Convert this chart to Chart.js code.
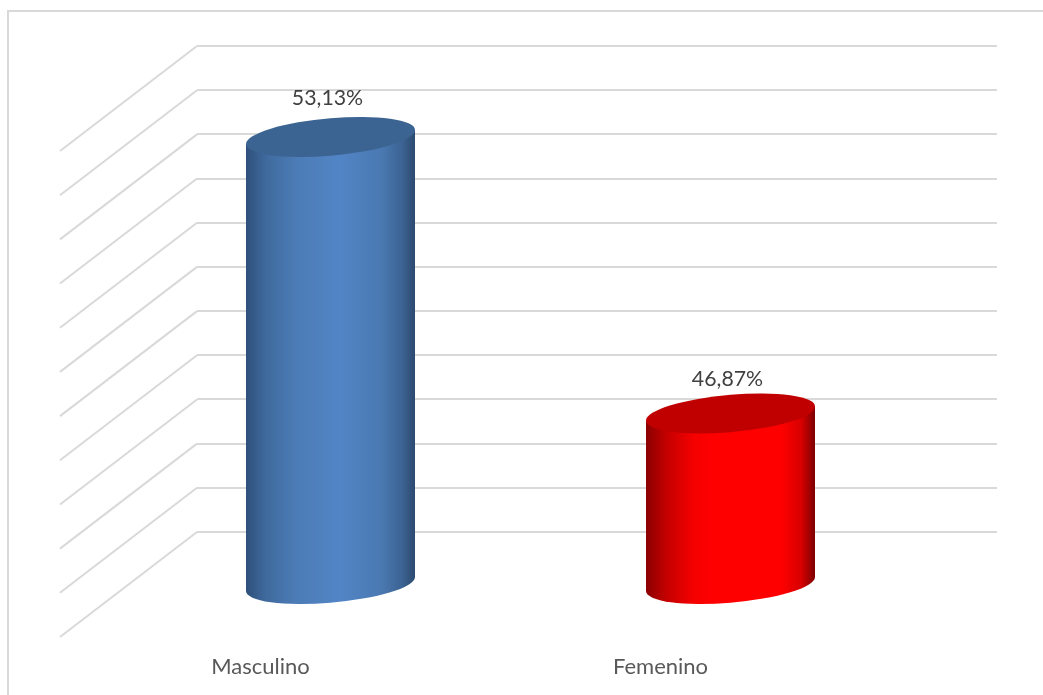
<!DOCTYPE html>
<html>
<head>
<meta charset="utf-8">
<style>html,body{margin:0;padding:0;background:#fff;overflow:hidden}canvas{display:block}</style>
<script src="https://cdn.jsdelivr.net/npm/chart.js@4"></script>
</head>
<body>
<canvas id="c" width="1043" height="695"></canvas>
<script>
const categories = ['Masculino', 'Femenino'];
const values = [53.13, 46.87];
const valueLabels = ['53,13%', '46,87%'];
const axisMin = 43;
const axisMax = 54;
const axisStep = 1;

const bodyStops = [
  [[0,'#2f507a'],[0.12,'#3f6a9e'],[0.3,'#4c7cb6'],[0.55,'#5285c6'],[0.8,'#4a79b2'],[0.92,'#3c6494'],[1,'#2c4a6f']],
  [[0,'#8a0000'],[0.12,'#c40000'],[0.28,'#f50000'],[0.4,'#ff0000'],[0.8,'#ff0000'],[0.92,'#d60000'],[1,'#7c0000']]
];
const capColors = ['#3c6492', '#c00000'];
const labelLift = [39, 34];

const GRID = '#d9d9d9';
const DEPTH_DX = -137, DEPTH_DY = 105;      // front edge of the floor/wall
const BAR_DX = -66.5, BAR_DY = 52.5;        // bars stand mid-depth
const TILT = 7 / 84, CAP_B = 18.7;

const scene = {
  id: 'scene',
  beforeDraw(chart) {
    const c = chart.ctx;
    c.save();
    c.fillStyle = '#fff';
    c.fillRect(0, 0, chart.width, chart.height);
    c.strokeStyle = GRID;
    c.lineWidth = 2;
    c.beginPath();
    c.moveTo(8, 695); c.lineTo(8, 11); c.lineTo(1043, 11);
    c.stroke();
    c.restore();
  },
  beforeDatasetsDraw(chart) {
    const c = chart.ctx, y = chart.scales.y, left = chart.chartArea.left;
    c.save();
    c.strokeStyle = GRID;
    c.lineWidth = 2;
    y.ticks.forEach(t => {
      const py = y.getPixelForValue(t.value);
      c.beginPath();
      c.moveTo(left, py);
      c.lineTo(left + DEPTH_DX, py + DEPTH_DY);
      c.stroke();
    });
    c.restore();
  },
  afterDatasetsDraw(chart) {
    const c = chart.ctx;
    chart.getDatasetMeta(0).data.forEach((bar, i) => {
      const A = bar.width / 2, cx = bar.x + BAR_DX, top = bar.y + BAR_DY, h = bar.base - bar.y + 0.5;
      c.save();
      c.transform(1, -TILT, 0, 1, cx, top);
      const g = c.createLinearGradient(-A, 0, A, 0);
      bodyStops[i].forEach(s => g.addColorStop(s[0], s[1]));
      c.fillStyle = g;
      c.beginPath();
      c.moveTo(-A, 0);
      c.lineTo(-A, h);
      c.ellipse(0, h, A, CAP_B, 0, Math.PI, 0, true);
      c.lineTo(A, 0);
      c.closePath();
      c.fill();
      c.fillStyle = capColors[i];
      c.beginPath();
      c.ellipse(0, 0, A, CAP_B, 0, 0, Math.PI * 2);
      c.fill();
      c.restore();

      c.save();
      c.font = '21.3px Lato, sans-serif';
      c.fillStyle = '#404040';
      c.textAlign = 'center';
      c.textBaseline = 'middle';
      c.fillText(valueLabels[i], cx - 3, top - labelLift[i]);
      c.restore();
    });
  }
};

new Chart(document.getElementById('c'), {
  type: 'bar',
  data: {
    labels: categories,
    datasets: [{
      data: values,
      base: axisMin,
      backgroundColor: 'rgba(0,0,0,0)',
      borderWidth: 0,
      barPercentage: 0.4225,
      categoryPercentage: 1
    }]
  },
  plugins: [scene],
  options: {
    responsive: false,
    animation: false,
    layout: { padding: { left: 197, right: 46, top: 46, bottom: 16 } },
    plugins: { legend: { display: false }, tooltip: { enabled: false }, title: { display: false } },
    scales: {
      x: {
        afterFit(scale) { scale.height = 147; },
        grid: { display: false },
        border: { display: false },
        ticks: {
          color: '#595959',
          font: { family: 'Lato, sans-serif', size: 22 },
          padding: 114,
          labelOffset: -136.5,
          maxRotation: 0,
          autoSkip: false
        }
      },
      y: {
        min: axisMin,
        max: axisMax,
        grid: { color: GRID, lineWidth: 2, drawTicks: false },
        border: { display: false },
        ticks: { display: false, stepSize: axisStep }
      }
    }
  }
});
</script>
</body>
</html>
